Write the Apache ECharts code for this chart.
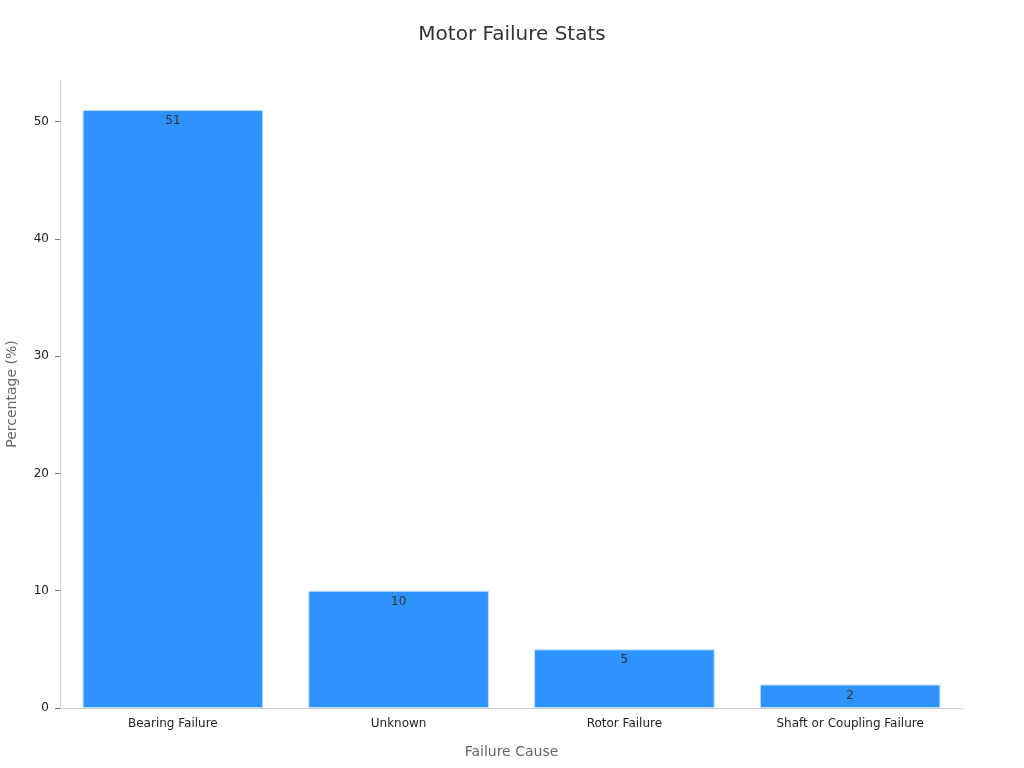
<!DOCTYPE html>
<html>
<head>
<meta charset="utf-8">
<script src="https://cdn.jsdelivr.net/npm/echarts@6/dist/echarts.min.js"></script>
<style>
  html, body { margin: 0; padding: 0; background: #fff; }
  #chart { width: 1024px; height: 768px; }
</style>
</head>
<body>
<div id="chart"></div>
<script>
// data
const causes = ["Bearing Failure", "Unknown", "Rotor Failure", "Shaft or Coupling Failure"];
const percentages = [51, 10, 5, 2];

const chart = echarts.init(document.getElementById("chart"));

chart.setOption({
  backgroundColor: "#fff",
  textStyle: { fontFamily: "DejaVu Sans" },
  title: {
    text: "Motor Failure Stats",
    left: "center",
    top: 20,
    textStyle: { fontSize: 20, fontWeight: "normal", color: "#333" }
  },
  grid: { left: 60, right: 61, top: 80, bottom: 60, containLabel: false, outerBoundsMode: "none" },
  xAxis: {
    type: "category",
    data: causes,
    name: "Failure Cause",
    nameLocation: "middle",
    nameGap: 37,
    nameTextStyle: { fontSize: 14, color: "#666" },
    axisLine: { lineStyle: { color: "#ccc" } },
    axisTick: { alignWithLabel: true, length: 5, lineStyle: { color: "#777" } },
    axisLabel: { color: "#222", fontSize: 12, margin: 10 }
  },
  yAxis: {
    type: "value",
    min: 0,
    max: 53.55,
    interval: 10,
    name: "Percentage (%)",
    nameLocation: "middle",
    nameGap: 41,
    nameTextStyle: { fontSize: 14, color: "#666" },
    axisLine: { show: true, lineStyle: { color: "#ccc" } },
    axisTick: { show: true, length: 5, lineStyle: { color: "#777" } },
    axisLabel: { color: "#222", fontSize: 12, margin: 11, showMaxLabel: false },
    splitLine: { show: false }
  },
  series: [{
    type: "bar",
    data: percentages,
    barWidth: "80%",
    itemStyle: { color: "#2E93FA", borderColor: "#BFDFFF", borderWidth: 1 },
    label: {
      show: true,
      position: "insideTop",
      color: "#333",
      fontSize: 12
    }
  }]
});
</script>
</body>
</html>
